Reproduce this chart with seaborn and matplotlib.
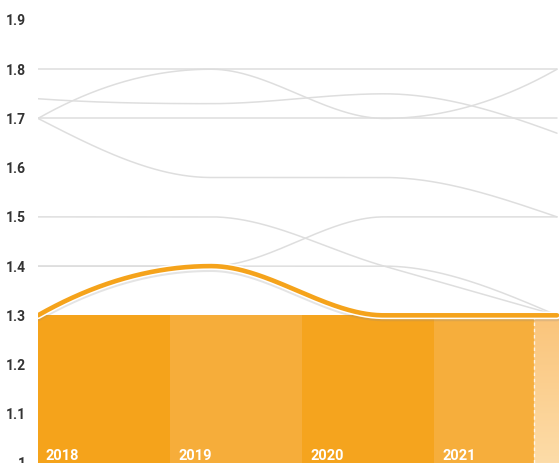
import numpy as np
import pandas as pd
import matplotlib
matplotlib.use("Agg")
import matplotlib.pyplot as plt
import matplotlib.patheffects as pe
import seaborn as sns

# ---------------- data ----------------
line_points = [0, 1, 2, 3]
highlight_series = [1.3, 1.4, 1.3, 1.3]
grey_series = {
    "A": [1.7, 1.8, 1.7, 1.8],
    "B": [1.74, 1.73, 1.75, 1.67],
    "C": [1.7, 1.58, 1.58, 1.5],
    "D": [1.8, 1.8, 1.8, 1.8],
    "E": [1.7, 1.7, 1.7, 1.7],
    "F": [1.5, 1.5, 1.4, 1.3],
    "G": [1.4, 1.4, 1.5, 1.5],
    "H": [1.4, 1.4, 1.4, 1.3],
    "I": [1.3, 1.4, 1.3, 1.3],
}
bar_years = ["2018", "2019", "2020", "2021"]
bar_values = [1.3, 1.3, 1.3, 1.3]
y_ticks = [1.0, 1.1, 1.2, 1.3, 1.4, 1.5, 1.6, 1.7, 1.8, 1.9]
y_tick_labels = ["1", "1.1", "1.2", "1.3", "1.4", "1.5", "1.6", "1.7", "1.8", "1.9"]

# ---------------- helpers ----------------
def pchip(x, y, xs):
    x = np.asarray(x, float); y = np.asarray(y, float)
    n = len(x)
    h = np.diff(x)
    delta = np.diff(y) / h
    d = np.zeros(n)
    for k in range(1, n - 1):
        if delta[k - 1] * delta[k] <= 0:
            d[k] = 0.0
        else:
            w1 = 2 * h[k] + h[k - 1]
            w2 = h[k] + 2 * h[k - 1]
            d[k] = (w1 + w2) / (w1 / delta[k - 1] + w2 / delta[k])

    def end_slope(h0, h1, d0, d1):
        s = ((2 * h0 + h1) * d0 - h0 * d1) / (h0 + h1)
        if np.sign(s) != np.sign(d0):
            s = 0.0
        elif np.sign(d0) != np.sign(d1) and abs(s) > abs(3 * d0):
            s = 3 * d0
        return s

    d[0] = end_slope(h[0], h[1], delta[0], delta[1])
    d[-1] = end_slope(h[-1], h[-2], delta[-1], delta[-2])
    out = np.empty_like(xs, dtype=float)
    idx = np.clip(np.searchsorted(x, xs) - 1, 0, n - 2)
    for i, xv in enumerate(xs):
        k = idx[i]
        t = (xv - x[k]) / h[k]
        h00 = 2 * t**3 - 3 * t**2 + 1
        h10 = t**3 - 2 * t**2 + t
        h01 = -2 * t**3 + 3 * t**2
        h11 = t**3 - t**2
        out[i] = h00 * y[k] + h10 * h[k] * d[k] + h01 * y[k + 1] + h11 * h[k] * d[k + 1]
    return out

xs = np.linspace(line_points[0], line_points[-1], 300)
rows = []
for name, vals in grey_series.items():
    ys = pchip(line_points, vals, xs)
    rows.append(pd.DataFrame({"x": xs, "y": ys, "series": name}))
grey_df = pd.concat(rows, ignore_index=True)
hl_df = pd.DataFrame({"x": xs, "y": pchip(line_points, highlight_series, xs)})

# ---------------- figure ----------------
sns.set_theme(style="white")
plt.rcParams["font.family"] = ["Roboto", "DejaVu Sans"]

W, H = 559, 463
fig = plt.figure(figsize=(W / 100, H / 100), dpi=100)
ax = fig.add_axes([38 / W, 0, 1 - 38 / W, 1])

bar_colors = ["#F5A31B", "#F6AD3A", "#F5A41E", "#F6AE3C"]
df_bars = pd.DataFrame({"year": bar_years, "value": bar_values})
sns.barplot(data=df_bars, x="year", y="value", hue="year", palette=bar_colors,
            width=1.0, saturation=1, legend=False, ax=ax, linewidth=0)
bar_xlim = (-0.5, -0.5 + 521 / 132)
ax.set_xlim(*bar_xlim)
ax.set_ylim(1.0, 1.9406)

# lighter projected strip with gradient + dashed boundary
proj_start = 3.26
grad = np.linspace(0, 1, 100).reshape(-1, 1)
top_c = np.array([250, 196, 122]) / 255
bot_c = np.array([253, 220, 168]) / 255
img = top_c * (1 - grad[..., None]) + bot_c * grad[..., None]
img = img.reshape(100, 1, 3)
ax.imshow(img, extent=[proj_start, bar_xlim[1], 1.0, 1.3], aspect="auto",
          origin="upper", zorder=2)
ax.vlines(proj_start, 1.0, 1.3, colors="white", linestyles=(0, (2.5, 2)),
          lw=1.0, alpha=0.8, zorder=3)

for i, yr in enumerate(bar_years):
    ax.annotate(yr, xy=(i - 0.5, 1.0), xytext=(8, 3), textcoords="offset pixels",
                ha="left", va="baseline", color="white", fontsize=10.5,
                fontweight="bold", zorder=4)

ax.set_xticks([])
ax.set_yticks(y_ticks)
ax.set_yticklabels(y_tick_labels)
ax.tick_params(axis="y", length=0, pad=9, labelsize=10, labelcolor="#333333")
for lab in ax.get_yticklabels():
    lab.set_fontweight("bold")
ax.set_xlabel("")
ax.set_ylabel("")
for s in ax.spines.values():
    s.set_visible(False)

# lines on twin x axis
axl = ax.twiny()
sns.lineplot(data=grey_df, x="x", y="y", units="series", estimator=None,
             color="#DEDEDE", lw=1.1, ax=axl, sort=False, zorder=3)
sns.lineplot(data=hl_df, x="x", y="y", color="#F5A31B", lw=3.3, ax=axl,
             sort=False, zorder=5,
             path_effects=[pe.SimpleLineShadow(offset=(0, -1.5), shadow_color="#888888", alpha=0.22, linewidth=5.5),
                           pe.Stroke(linewidth=5.5, foreground="white"),
                           pe.Normal()])
axl.set_xlim(0, 521 / 173)
axl.set_ylim(1.0, 1.9406)
axl.set_xticks([])
axl.set_xlabel("")
axl.set_ylabel("")
for s in axl.spines.values():
    s.set_visible(False)

fig.savefig("out.png", dpi=100)
